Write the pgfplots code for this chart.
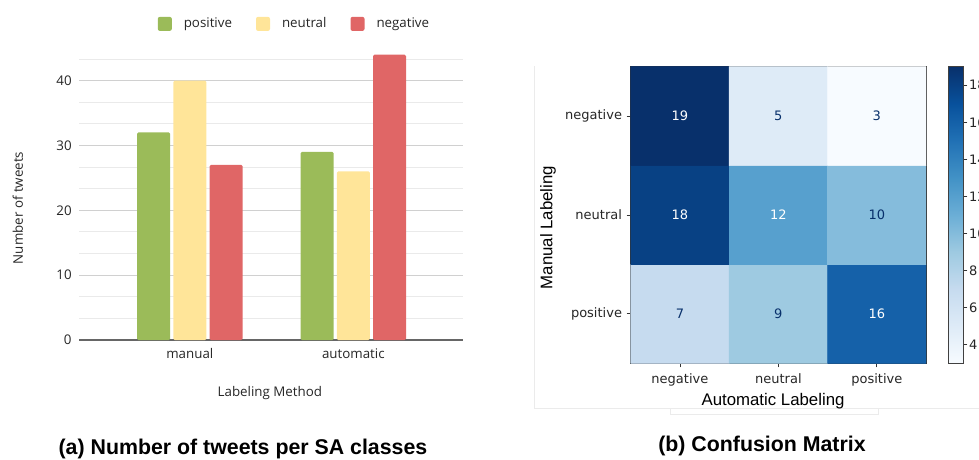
\documentclass[border=0pt]{standalone}
\usepackage{pgfplots}
\pgfplotsset{compat=1.18}
\usepackage{fontspec}
\setmainfont{Open Sans}
\newfontfamily\dejavu{DejaVu Sans}
\newfontfamily\arial{Liberation Sans}
\definecolor{cpos}{RGB}{155,187,89}
\definecolor{cneu}{RGB}{255,229,153}
\definecolor{cneg}{RGB}{224,102,102}
\definecolor{gridmaj}{RGB}{208,208,208}
\definecolor{gridmin}{RGB}{234,234,234}
\definecolor{txtdark}{RGB}{8,48,107}
\pgfplotsset{
  sqleg/.style={legend image code/.code={\fill[##1, rounded corners=1.5pt] (0pt,-5.25pt) rectangle (10.5pt,5.25pt);}},
}
\begin{document}
\begin{tikzpicture}
\path[use as bounding box] (0pt,0pt) rectangle (734.25pt,-345pt);
\clip (0pt,0pt) rectangle (734.25pt,-345pt);
\begin{scope}[x=0.75pt,y=-0.75pt]
% faint screenshot borders
\draw[black!8, line width=0.75pt] (534,66) -- (534,408) -- (979,408);
\draw[black!8, line width=0.75pt] (670,408) -- (670,414) -- (878,414) -- (878,408);
\end{scope}

% ---------- (a) bar chart ----------
\begin{axis}[
  at={(59.25pt,-255pt)}, anchor=south west,
  scale only axis, width=288pt, height=210.75pt,
  xmin=-0.678, xmax=1.671, ymin=0, ymax=43.333,
  clip=false,
  separate axis lines,
  axis x line*=bottom, axis y line*=left,
  x axis line style={draw=black!60, line width=0.9pt, -},
  y axis line style={draw=none},
  major tick length=0pt, minor tick length=0pt,
  xtick={0,1}, xticklabels={manual,automatic},
  ytick={0,10,20,30,40},
  minor ytick={3.333,6.667,13.333,16.667,23.333,26.667,33.333,36.667,43.333},
  ymajorgrids, yminorgrids,
  major grid style={draw=gridmaj, line width=0.75pt},
  minor grid style={draw=gridmin, line width=0.75pt},
  tick label style={font=\fontsize{10}{12}\selectfont, text=black!85},
  /pgf/number format/assume math mode=true,
  xticklabel style={yshift=-3pt},
  yticklabel style={xshift=-2pt},
  xlabel={Labeling Method},
  xlabel style={at={(axis description cs:0.497,-0.189)}, anchor=center, font=\fontsize{10}{12}\selectfont, text=black!85},
  ylabel={Number of tweets},
  ylabel style={at={(axis description cs:-0.159,0.47)}, anchor=center, rotate=0, font=\fontsize{10}{12}\selectfont, text=black!85},
  legend columns=3,
  legend style={draw=none, fill=none, at={(axis description cs:0.562,1.125)}, anchor=center,
    font=\fontsize{10}{12}\selectfont, text=black!85,
    /tikz/every odd column/.append style={column sep=7pt},
    /tikz/every even column/.append style={column sep=16pt},
    nodes={inner sep=2pt}},
]
\addplot[ybar, bar width=0.2018, bar shift=-0.2214, fill=cpos, draw=none, sqleg, rounded corners=1pt]
  coordinates {(0,32) (1,29)};
\addlegendentry{positive}
\addplot[ybar, bar width=0.2018, bar shift=0, fill=cneu, draw=none, sqleg, rounded corners=1pt]
  coordinates {(0,40) (1,26)};
\addlegendentry{neutral}
\addplot[ybar, bar width=0.2018, bar shift=0.2214, fill=cneg, draw=none, sqleg, rounded corners=1pt]
  coordinates {(0,27) (1,44)};
\addlegendentry{negative}
\end{axis}

% ---------- (b) confusion matrix ----------
\begin{axis}[
  at={(473.025pt,-272.475pt)}, anchor=south west,
  scale only axis, width=221.5pt, height=222.45pt,
  xmin=-0.5, xmax=2.5, ymin=-0.5, ymax=2.5,
  axis line style={draw=black!80, line width=0.8pt},
  tick align=outside, major tick length=3pt,
  xtick pos=bottom, ytick pos=left,
  tick style={draw=black!80, line width=0.6pt},
  xtick={0,1,2}, xticklabels={negative,neutral,positive},
  ytick={0,1,2}, yticklabels={positive,neutral,negative},
  tick label style={font=\dejavu\fontsize{9.75}{11}\selectfont, text=black!85},
  xticklabel style={yshift=-1pt},
  xlabel={Automatic Labeling},
  xlabel style={at={(axis description cs:0.482,-0.127)}, anchor=center, font=\arial\fontsize{12.6}{14}\selectfont},
  ylabel={Manual Labeling},
  ylabel style={at={(axis description cs:-0.28,0.458)}, anchor=center, rotate=0, font=\arial\fontsize{12.6}{14}\selectfont},
  colormap={blues}{rgb255=(247,251,255) rgb255=(222,235,247) rgb255=(198,219,239) rgb255=(158,202,225) rgb255=(107,174,214) rgb255=(66,146,198) rgb255=(33,113,181) rgb255=(8,81,156) rgb255=(8,48,107)},
  point meta min=3, point meta max=19,
  colorbar,
  colorbar style={
    at={(parent axis.north east)}, anchor=north west, xshift=8.25pt,
    width=11.25pt,
    ytick={4,6,8,10,12,14,16,18},
    ytick pos=right,
    tick align=outside, major tick length=3pt,
    axis line style={draw=black!75, line width=0.8pt},
    tick style={draw=black!80, line width=0.6pt},
    yticklabel style={font=\dejavu\fontsize{9.75}{11}\selectfont, text=black!85, inner sep=1pt},
    /pgf/number format/assume math mode=true,
  },
]
\addplot[matrix plot*, mesh/cols=3, point meta=explicit] table[meta=c] {
x y c
0 0 7
1 0 9
2 0 16
0 1 18
1 1 12
2 1 10
0 2 19
1 2 5
2 2 3
};
\addplot[draw=none, mark=none, nodes near coords, point meta=explicit symbolic,
  every node near coord/.append style={anchor=center, text=white, font=\dejavu\fontsize{9.75}{11}\selectfont}]
  table[meta=v] {
x y v
0 2 19
0 1 18
1 1 12
2 0 16
};
\addplot[draw=none, mark=none, nodes near coords, point meta=explicit symbolic,
  every node near coord/.append style={anchor=center, text=txtdark, font=\dejavu\fontsize{9.75}{11}\selectfont}]
  table[meta=v] {
x y v
1 2 5
2 2 3
2 1 10
0 0 7
1 0 9
};
\end{axis}

% captions
\begin{scope}[x=0.75pt,y=-0.75pt]
\node[font=\arial\bfseries\fontsize{16}{19}\selectfont] at (243,449) {(a) Number of tweets per SA classes};
\node[font=\arial\bfseries\fontsize{16}{19}\selectfont] at (762,446) {(b) Confusion Matrix};
\end{scope}
\end{tikzpicture}
\end{document}
